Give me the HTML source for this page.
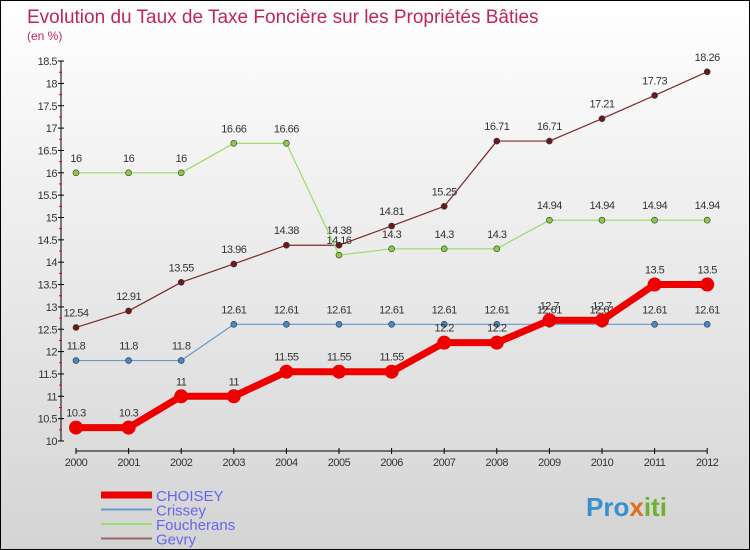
<!DOCTYPE html>
<html><head><meta charset="utf-8"><style>
body{margin:0}
#c{width:750px;height:550px;position:relative;overflow:hidden;background:linear-gradient(#ffffff,#d4d4d4);box-sizing:border-box;border:1px solid #000;font-family:"Liberation Sans",sans-serif}
text{font-family:"Liberation Sans",sans-serif}
</style></head><body>
<div id="c">
<svg id="s" width="750" height="550">
<text x="26" y="22" font-size="19" fill="#c0245c">Evolution du Taux de Taxe Foncière sur les Propriétés Bâties</text>
<text x="26" y="39" font-size="12" fill="#c0245c">(en %)</text>
<g id="axes"></g><g id="series"></g><g id="legend"></g>
<text x="585" y="515" font-size="26" font-weight="bold" fill="#3a8fd0">Pro<tspan fill="#e07020">x</tspan><tspan fill="#70b030">iti</tspan></text>
</svg>
</div>
<script>
const years=[2000,2001,2002,2003,2004,2005,2006,2007,2008,2009,2010,2011,2012];
const yTicks=[10,10.5,11,11.5,12,12.5,13,13.5,14,14.5,15,15.5,16,16.5,17,17.5,18,18.5];
const seriesNames=["CHOISEY","Crissey","Foucherans","Gevry"];
const choisey=[10.3,10.3,11,11,11.55,11.55,11.55,12.2,12.2,12.7,12.7,13.5,13.5];
const crissey=[11.8,11.8,11.8,12.61,12.61,12.61,12.61,12.61,12.61,12.61,12.61,12.61,12.61];
const foucherans=[16,16,16,16.66,16.66,14.16,14.3,14.3,14.3,14.94,14.94,14.94,14.94];
const gevry=[12.54,12.91,13.55,13.96,14.38,14.38,14.81,15.25,16.71,16.71,17.21,17.73,18.26];
const NS="http://www.w3.org/2000/svg";
const X=i=>75+i*52.6, Y=v=>440-(v-10)*44.7;
function el(t,a,p){const e=document.createElementNS(NS,t);for(const k in a)e.setAttribute(k,a[k]);p.appendChild(e);return e;}
const ax=document.getElementById('axes');
let yl=el('line',{x1:60,y1:Y(18.5),x2:60,y2:Y(10),stroke:'#000'},ax);


yTicks.forEach((v,i)=>{
 el('line',{x1:57,x2:63,y1:Y(v),y2:Y(v),stroke:'#000'},ax);
 if(i<yTicks.length-1) el('line',{x1:58,x2:61,y1:Y(v+0.25),y2:Y(v+0.25),stroke:'#e00'},ax);
 const t=el('text',{x:56,y:Y(v)+4,'font-size':11,fill:'#333','text-anchor':'end','letter-spacing':'-0.5'},ax);t.textContent=v;
 
 
});
let xl=el('line',{x1:X(0),y1:450,x2:X(12),y2:450,stroke:'#000'},ax);


years.forEach((y,i)=>{
 el('line',{x1:X(i),x2:X(i),y1:447,y2:453,stroke:'#000'},ax);
 const t=el('text',{x:X(i),y:465,'font-size':11,fill:'#333','text-anchor':'middle','letter-spacing':'-0.5'},ax);t.textContent=y;
 
 
});
const sg=document.getElementById('series');
function draw(data,color,dot,w,r,name,labelDy){
 const g=el('g',{},sg);
 
 
 el('polyline',{points:data.map((v,i)=>X(i)+','+Y(v)).join(' '),fill:'none',stroke:color,'stroke-width':w,'stroke-linejoin':'round'},g);
 data.forEach((v,i)=>{
  const c=el('circle',{cx:X(i),cy:Y(v),r:r,fill:dot,stroke:'#333','stroke-width':r>4?0:0.6},g);
  
  
  const t=el('text',{x:X(i),y:Y(v)+labelDy,'font-size':11,fill:'#333','text-anchor':'middle','letter-spacing':'-0.5'},g);t.textContent=v;
  
  
 });
}
draw(gevry,'#7a2a2a','#6a1a1a',1.2,3,'gevry',-11);
draw(foucherans,'#99dd66','#88cc44',1.2,3,'foucherans',-11);
draw(crissey,'#6699cc','#4488cc',1.2,3,'crissey',-11);
draw(choisey,'#ee0000','#ee0000',7,7,'choisey',-11);
const lg=document.getElementById('legend');
const lc=['#ee0000','#6699cc','#99dd66','#996666'],lw=[7,2,2,2];
seriesNames.forEach((n,i)=>{
 const yy=494+i*14.5;
 el('line',{x1:100,x2:151,y1:yy,y2:yy,stroke:lc[i],'stroke-width':lw[i]},lg);
 const t=el('text',{x:155,y:yy+6,'font-size':15,fill:'#6666ee'},lg);t.textContent=n;
 
 
});
</script>
</body></html>
